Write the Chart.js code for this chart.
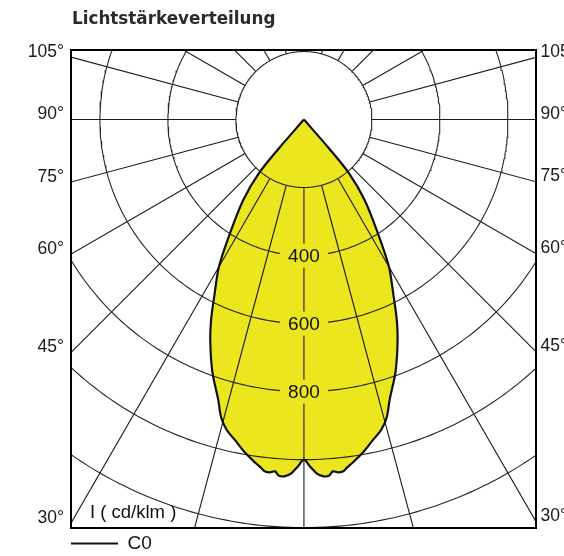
<!DOCTYPE html>
<html lang="de">
<head>
<meta charset="utf-8">
<title>Lichtstärkeverteilung</title>
<script src="https://cdn.jsdelivr.net/npm/chart.js@4.4.1/dist/chart.umd.min.js"></script>
<style>
    html, body { margin: 0; padding: 0; background: #fff; }
    #wrap { position: relative; width: 564px; height: 556px; overflow: hidden; }
    #lvk { position: absolute; left: 0; top: 0; }
    #title {
        position: absolute; left: 72px; top: 10px;
        font: bold 16.8px "DejaVu Sans", sans-serif; line-height: 1; color: #2b2b2b;
    }
</style>
</head>
<body>
<div id="wrap">
    <canvas id="lvk" width="564" height="556"></canvas>
    <div id="title">Lichtstärkeverteilung</div>
</div>
<script>
// C0 plane (symmetric about nadir), cd/klm
const gammaDeg  = [0, 1, 2, 3, 4, 4.7, 5.5, 6.3, 7, 8, 10, 12, 14, 15.5, 17, 20, 23, 25, 27, 30, 33, 37, 40, 41, 42.5];
const intensity = [1000, 1020, 1040, 1050, 1050, 1038, 1042, 1041, 1032, 1020, 995, 966, 940, 910, 862, 788, 705, 645, 580, 500, 400, 297, 205, 110, 0];

// polar grid
const ringRadii   = [200, 400, 600, 800, 1000, 1200];
const ringLabels  = [400, 600, 800];
const spokeAngles = [0, 15, 30, 45, 60, 75, 90, 105, 120, 135, 150, 165, 180, 195, 210, 225, 240, 255, 270, 285, 300, 315, 330, 345];
const angleTicks  = [105, 90, 75, 60, 45, 30];

const xRange = [-685, 681];
const yRange = [-1201, 206];

const YELLOW = '#EBE61E';
const SANS = '"Liberation Sans", Arial, sans-serif';

const rad = d => d * Math.PI / 180;
// gamma measured from nadir (straight down)
const polar = (g, r) => ({ x: r * Math.sin(rad(g)), y: -r * Math.cos(rad(g)) });

function curvePoints() {
    const pts = [];
    for (let i = gammaDeg.length - 1; i > 0; i--) pts.push(polar(-gammaDeg[i], intensity[i]));
    for (let i = 0; i < gammaDeg.length; i++) pts.push(polar(gammaDeg[i], intensity[i]));
    return pts;
}

function ringPoints(r) {
    const pts = [];
    for (let t = 0; t <= 360; t++) pts.push(polar(t, r));
    return pts;
}

const datasets = [{
    label: 'C0',
    data: curvePoints(),
    borderColor: '#111',
    borderWidth: 2.2,
    backgroundColor: YELLOW,
    fill: 'shape',
    tension: 0.3
}];

ringRadii.forEach(r => datasets.push({
    label: '', data: ringPoints(r), borderColor: '#262626', borderWidth: 1.1, fill: false
}));

spokeAngles.forEach(a => datasets.push({
    label: '', data: [polar(a, 200), polar(a, 2200)], borderColor: '#1a1a1a', borderWidth: 1.1, fill: false
}));

datasets.forEach(d => {
    d.xAxisID = 'x';
    d.yAxisID = 'y';
    d.clip = 0;
    d.pointRadius = 0;
});

// y values where the spokes meet the left / right frame edge
const edgeTicks = edge => angleTicks.map(a => ({ value: -Math.abs(edge) * Math.cos(rad(a)) / Math.sin(rad(a)) }));

const frame = { display: true, color: '#000', width: 2, z: 1 };
const hiddenGrid = { display: false, drawTicks: false };

function sideAxis(position, edge, padding, width) {
    return {
        type: 'linear', axis: 'y', position,
        min: yRange[0], max: yRange[1],
        grid: hiddenGrid,
        border: frame,
        ticks: {
            autoSkip: false,
            padding,
            labelOffset: -5,
            color: '#1a1a1a',
            font: { family: SANS, size: 17.5 },
            callback: (v, i) => angleTicks[i] + '°'
        },
        afterBuildTicks: s => { s.ticks = edgeTicks(edge); },
        afterFit: s => { s.width = width; }
    };
}

function flatAxis(position, height) {
    return {
        type: 'linear', axis: 'x', position,
        min: xRange[0], max: xRange[1],
        grid: hiddenGrid,
        border: frame,
        ticks: { display: false },
        afterFit: s => { s.height = height; }
    };
}

// ring values on the nadir line and the unit label
const ringText = {
    id: 'ringText',
    afterDatasetsDraw(chart) {
        const { ctx, chartArea, scales: { x, y } } = chart;
        ctx.save();
        ctx.font = '19px ' + SANS;
        ctx.textAlign = 'center';
        ctx.textBaseline = 'middle';
        ringLabels.forEach(v => {
            const px = x.getPixelForValue(0);
            const py = y.getPixelForValue(-v);
            ctx.fillStyle = YELLOW;
            ctx.fillRect(px - 24, py - 12, 48, 24);
            ctx.fillStyle = '#111';
            ctx.fillText(String(v), px, py + 1);
        });
        ctx.textAlign = 'left';
        ctx.textBaseline = 'alphabetic';
        ctx.font = '18.5px ' + SANS;
        ctx.fillText('I ( cd/klm )', chartArea.left + 19, chartArea.bottom - 10);
        ctx.restore();
    }
};

new Chart(document.getElementById('lvk'), {
    type: 'line',
    data: { datasets },
    plugins: [ringText],
    options: {
        responsive: false,
        devicePixelRatio: 1,
        animation: false,
        events: [],
        layout: { padding: { top: 49.5, bottom: 0, left: 0, right: 0 } },
        elements: { point: { radius: 0 } },
        scales: {
            x: flatAxis('bottom', 6),
            x2: flatAxis('top', 0),
            y: sideAxis('left', xRange[0], 7, 71),
            y2: sideAxis('right', xRange[1], 5, 28.5)
        },
        plugins: {
            filler: { drawTime: 'beforeDatasetsDraw' },
            tooltip: { enabled: false },
            title: { display: false },
            legend: {
                display: true,
                position: 'bottom',
                align: 'start',
                fullSize: false,
                maxHeight: 22,
                labels: {
                    usePointStyle: true,
                    pointStyle: 'line',
                    pointStyleWidth: 47,
                    padding: 0,
                    color: '#111',
                    font: { family: SANS, size: 19 },
                    filter: item => item.text === 'C0'
                }
            }
        }
    }
});
</script>
</body>
</html>
